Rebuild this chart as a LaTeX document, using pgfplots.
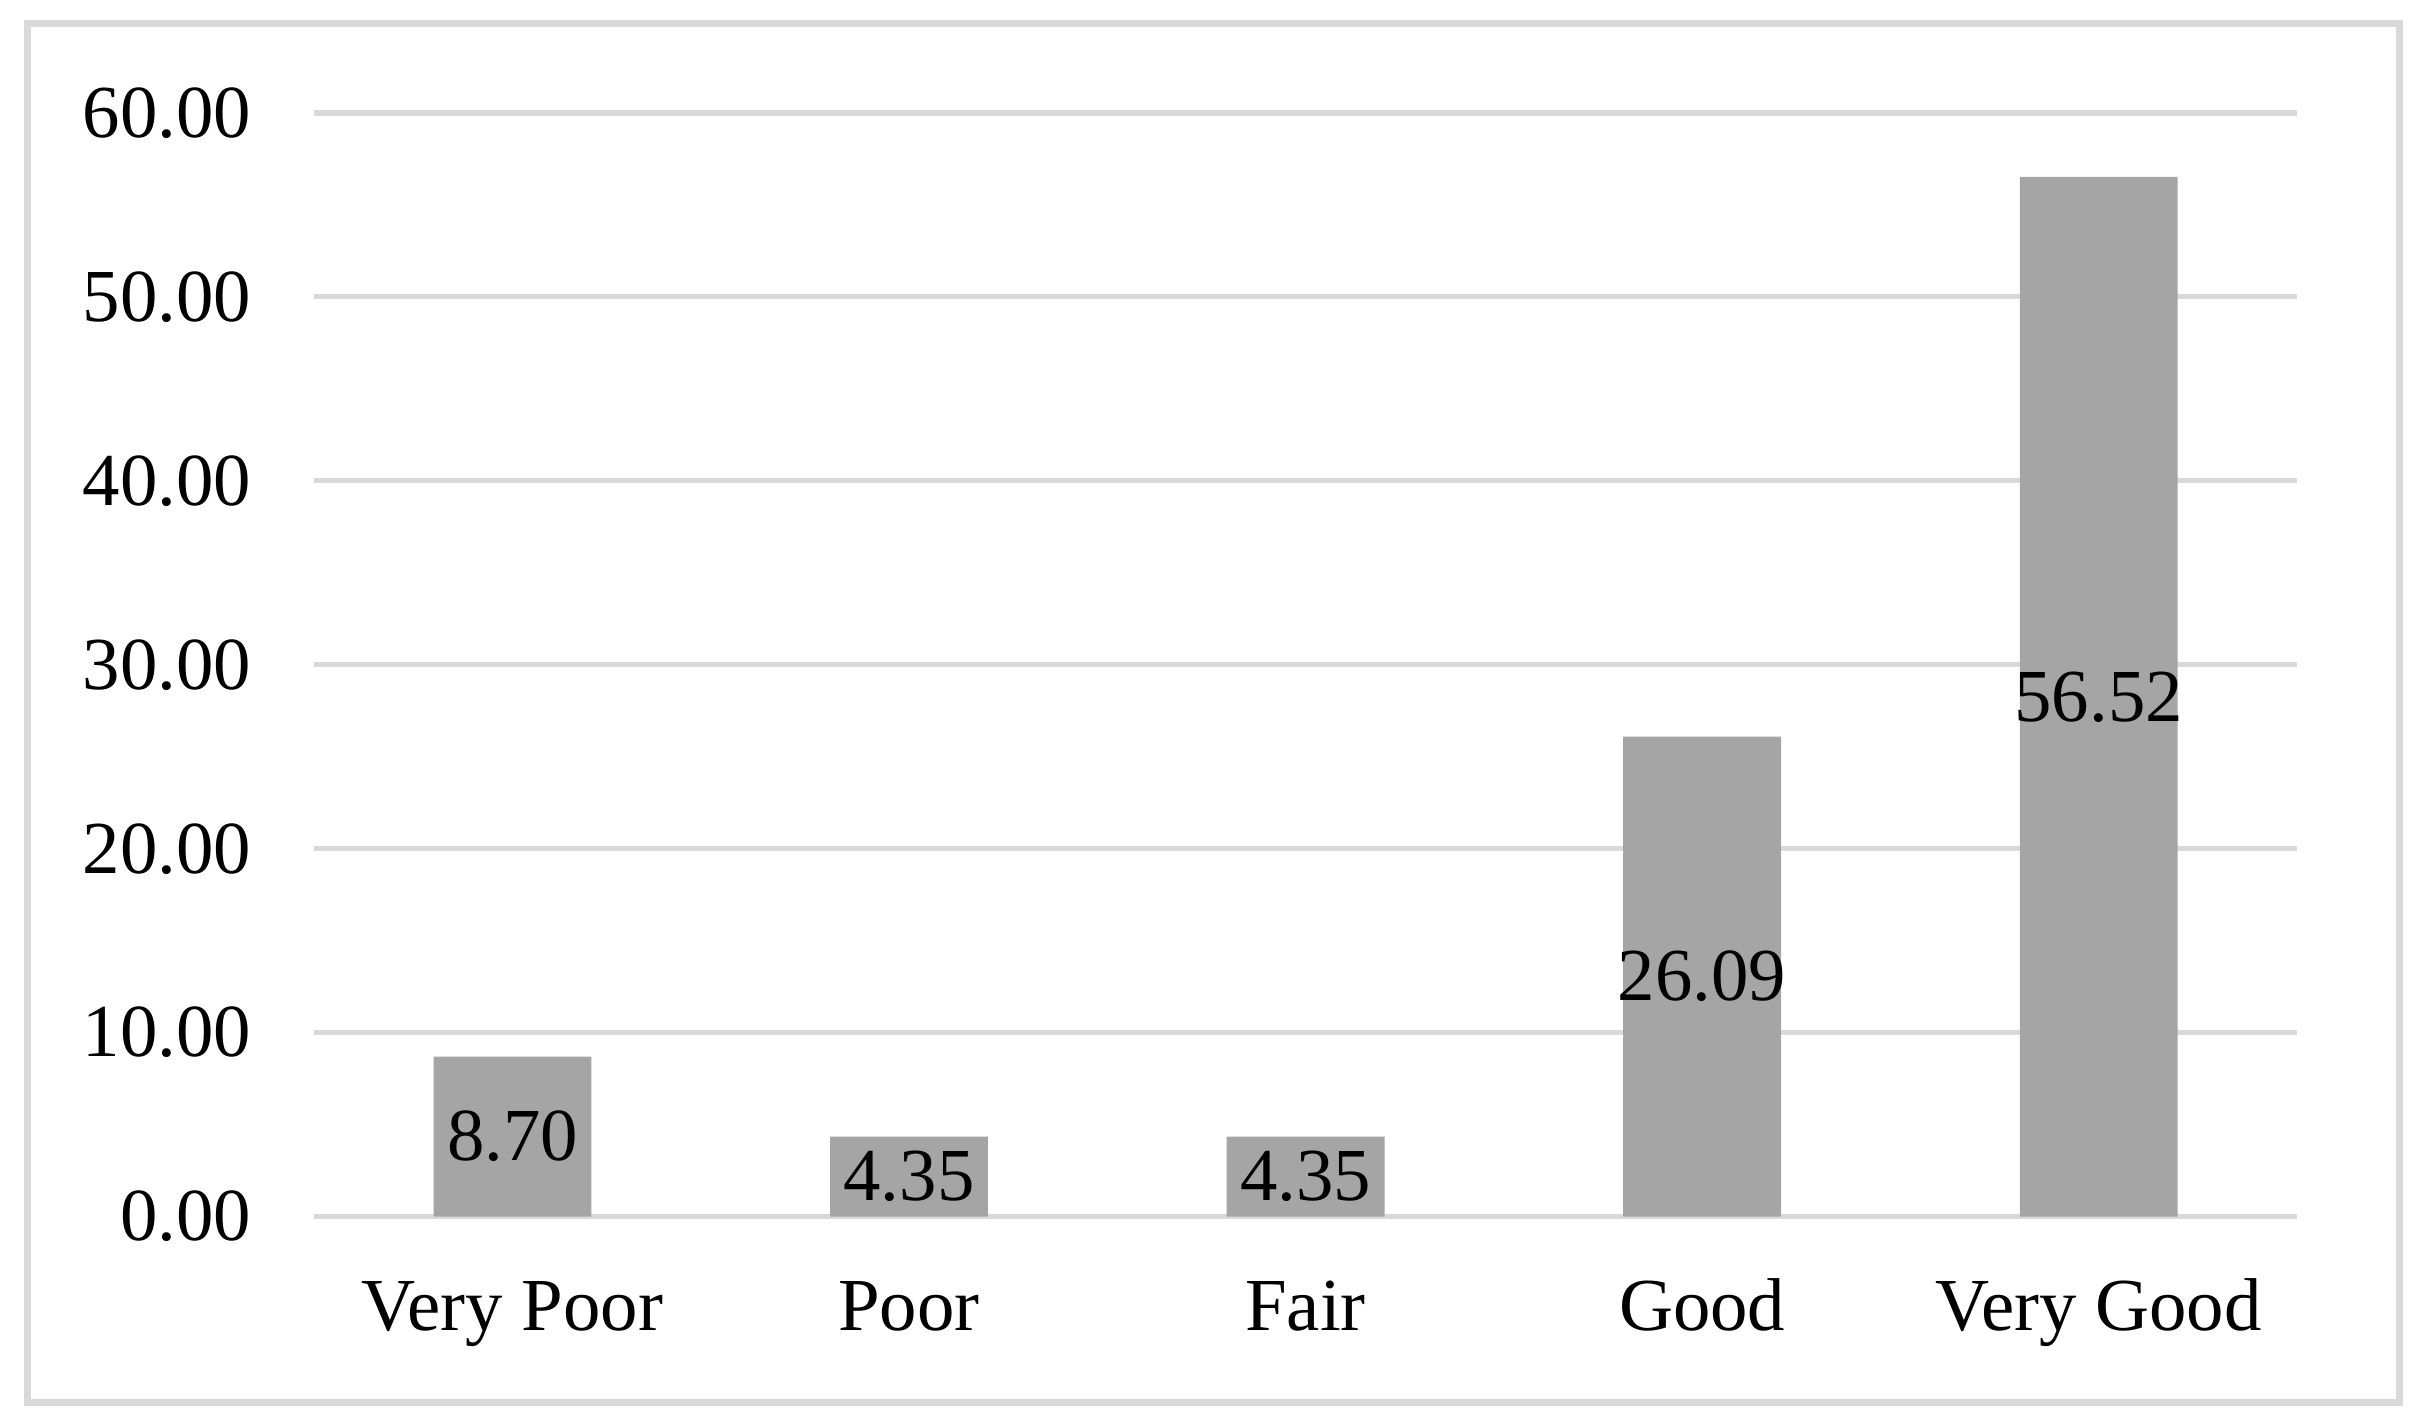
\documentclass[border=0pt]{standalone}
\usepackage{fontspec}
\setmainfont{Liberation Serif}
\usepackage{pgfplots}
\usepackage{pgfplotstable}
\pgfplotsset{compat=1.18}
\definecolor{cBar}{HTML}{A5A5A5}
\definecolor{cGrid}{HTML}{D9D9D9}

\pgfplotstableread{
x y lbl
0 8.70 8.70
1 4.35 4.35
2 4.35 4.35
3 26.09 26.09
4 56.52 56.52
}\ratings

\begin{document}
\begin{tikzpicture}[font=\fontsize{14.5}{17}\selectfont]
\begin{axis}[
  scale only axis, width=384.3pt, height=213.9pt, clip=false,
  xmin=-0.5, xmax=4.5, ymin=0, ymax=60,
  axis line style={draw=none},
  xtick={0,1,2,3,4},
  xticklabels={Very Poor,Poor,Fair,Good,Very Good},
  ytick={0,10,...,60},
  ymajorgrids, major grid style={draw=cGrid, line width=1pt},
  major tick length=0pt,
  /pgf/number format/assume math mode=true,
  yticklabel={\pgfmathprintnumber[fixed,fixed zerofill,precision=2]{\tick}},
  yticklabel style={anchor=east, inner sep=0pt, xshift=-12pt},
  xticklabel style={anchor=base, inner sep=0pt, yshift=-22pt},
  tick label style={font=\fontsize{14.5}{17}\selectfont, black},
]
  \addplot[ybar, bar width=30.6pt, draw=none, fill=cBar] table[x=x, y=y] {\ratings};
  % value labels sit at the middle of each bar
  \addplot[draw=none, mark=none, nodes near coords, point meta=explicit symbolic,
    every node near coord/.style={anchor=center, inner sep=0pt, black,
      font=\fontsize{14.5}{17}\selectfont}]
    table[x=x, y expr=\thisrow{y}/2, meta=lbl] {\ratings};
  % outer frame
  \draw[cGrid, line width=1.4pt]
    ([xshift=-55.5pt, yshift=-36pt]rel axis cs:0,0) rectangle
    ([xshift=19.8pt, yshift=17.4pt]rel axis cs:1,1);
  \path ([xshift=-60.9pt, yshift=-40.5pt]rel axis cs:0,0) rectangle
    ([xshift=25.2pt, yshift=21.9pt]rel axis cs:1,1);
\end{axis}
\end{tikzpicture}
\end{document}
